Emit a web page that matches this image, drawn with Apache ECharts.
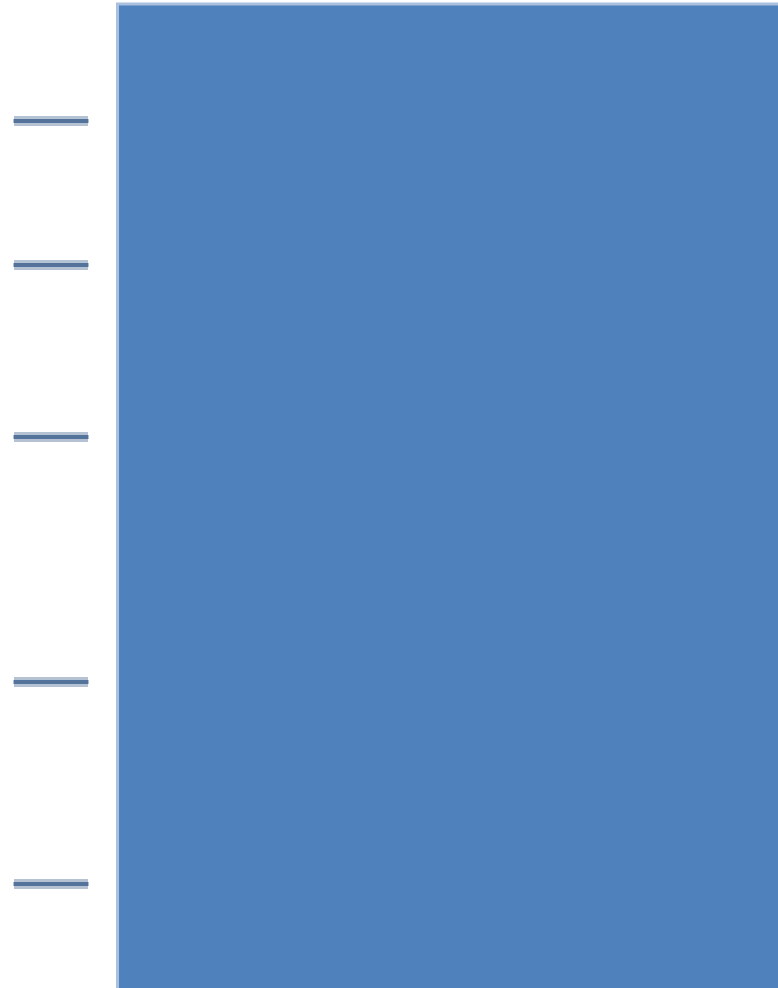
<!DOCTYPE html>
<html>
<head>
<meta charset="utf-8">
<script src="https://cdn.jsdelivr.net/npm/echarts@6/dist/echarts.min.js"></script>
<style>
html,body{margin:0;padding:0;background:#fff;}
#chart{width:778px;height:988px;}
</style>
</head>
<body>
<div id="chart"></div>
<script>
// Data
var markerX = 51;
var markerValues = [87.88, 73.45, 56.21, 31.66, 11.42];
var barX = 458;
var barValue = 99.75;

var markerData = markerValues.map(function (v) { return [markerX, v]; });

var chart = echarts.init(document.getElementById('chart'), null, {renderer: 'canvas'});
chart.setOption({
  animation: false,
  grid: {left: 0, right: 0, top: 0, bottom: 0},
  xAxis: {type: 'value', min: 0, max: 778, show: false},
  yAxis: {type: 'value', min: 1, max: 100, show: false},
  series: [
    {
      type: 'bar',
      data: [[barX, barValue]],
      barWidth: 684,
      clip: false,
      itemStyle: {color: '#4f81bd', borderColor: '#a9c0de', borderWidth: 3}
    },
    {
      type: 'scatter',
      data: markerData,
      symbol: 'rect',
      symbolSize: [74, 10],
      itemStyle: {color: '#a3b3c9'},
      z: 3
    },
    {
      type: 'scatter',
      data: markerData,
      symbol: 'rect',
      symbolSize: [75, 4],
      itemStyle: {color: '#3c5f8d'},
      z: 4
    }
  ]
});
</script>
</body>
</html>
